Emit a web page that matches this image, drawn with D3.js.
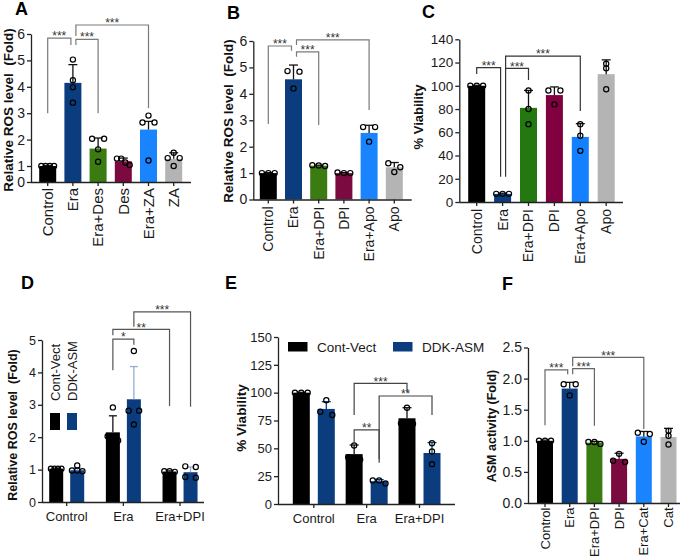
<!DOCTYPE html>
<html><head><meta charset="utf-8">
<script src="https://cdn.jsdelivr.net/npm/d3@7"></script>
<style>
body{margin:0;background:#fff}
svg{display:block}
text{white-space:pre}
</style></head><body>
<svg id="c" width="685" height="557"></svg>
<script>
// ---------------- DATA ----------------
const catsA = ["Control","Era","Era+Des","Des","Era+ZA","ZA"];
const meanA = [1.0, 4.15, 1.66, 1.18, 2.38, 1.27];
const sdA   = [0.02, 0.69, 0.40, 0.12, 0.31, 0.23];
const ptsA  = [[1,1,1,1],[5.03,4.25,3.98,3.40],[2.03,2.03,1.63,1.16],[1.28,1.28,1.13,1.04],[2.65,2.91,2.65,1.21],[1.30,1.50,1.30,1.00]];
const ticksA = [0,1,2,3,4,5,6];
const sigA = [[0,1,"***",5.84,3.0,5.58],[1,2,"***",5.8,5.58,3.0],[1,4,"***",6.34,5.92,3.19]];

const catsB = ["Control","Era","Era+DPI","DPI","Era+Apo","Apo"];
const meanB = [1.0, 4.55, 1.28, 1.0, 2.52, 1.22];
const sdB   = [0.02, 0.54, 0.02, 0.02, 0.29, 0.18];
const ptsB  = [[1,1,1],[4.86,4.84,4.2],[1.27,1.29,1.3],[1.0,1.02,1.0],[2.74,2.74,2.19],[1.37,1.04,1.22]];
const ticksB = [0,1,2,3,4,5,6];
const sigB = [[0,1,"***",5.81,2.86,5.63],[1,2,"***",5.59,5.4,2.82],[1,4,"***",6.04,5.85,3.39]];

const catsC = ["Control","Era","Era+DPI","DPI","Era+Apo","Apo"];
const meanC = [100, 7, 81, 92, 56, 110];
const sdC   = [0.4, 0.6, 15, 7, 11.4, 12.3];
const ptsC  = [[100,100,100],[7,7,7],[96,80,67],[96,96,84],[67,57,44],[119,115,97]];
const ticksC = [0,20,40,60,80,100,120,140];
const sigC = [[0,1,"***",115.6,110.1,21.8],[1,2,"***",115,21.8,105],[1,4,"***",125.6,115,78.3]];

const groupsD = ["Control","Era","Era+DPI"];
const seriesD = ["Cont-Vect","DDK-ASM"];
const meanD = [[1.03, 2.15, 0.94],[0.98, 3.17, 0.92]];
const sdD   = [[0.01, 0.51, 0.02],[0.07, 1.01, 0.16]];
const ptsD  = [[[1.03,1.03,1.03,1.03],[2.92,1.75,1.9,2.03],[0.95,0.95,0.93]],
               [[0.97,1.13,0.97,0.95],[2.82,2.82,2.39,4.66],[1.08,1.1,0.77,0.75]]];
const ticksD = [0,1,2,3,4,5];
const sigD = [[1,0,1,1,"*",5.03,4.07,4.85],[1,0,2,0,"**",5.33,5.15,2.96],[1,1,2,1,"***",5.87,5.41,2.94]];

const groupsE = ["Control","Era","Era+DPI"];
const seriesE = ["Cont-Vect","DDK-ASM"];
const meanE = [[100, 44.8, 77],[85.4, 20.5, 45.8]];
const sdE   = [[0.3, 8.2, 9.5],[6.5, 1.4, 9.4]];
const ptsE  = [[[100,100,100],[52.5,42,40],[86.5,72,72.5]],
               [[79.9,93.3,82.9],[18.5,21.2,21.2],[54.6,47.1,35.8]]];
const ticksE = [0,25,50,75,100,125,150];
const sigE = [[1,0,1,1,"**",66.5,54.5,37.1],[1,0,2,0,"***",108.4,79.9,100.9],[1,1,2,1,"**",97,40.2,79.9]];

const catsF = ["Control","Era","Era+DPI","DPI","Era+Cat","Cat"];
const meanF = [1.0, 1.84, 0.97, 0.71, 1.07, 1.06];
const sdF   = [0.01, 0.10, 0.02, 0.09, 0.08, 0.14];
const ptsF  = [[1,1,1],[1.91,1.91,1.73],[0.95,0.98,0.98],[0.66,0.79,0.68],[1.13,1.11,0.985],[1.16,1.08,0.94]];
const ticksF = [0,0.5,1.0,1.5,2.0,2.5];
const sigF = [[0,1,"***",2.14,1.25,2.07],[1,2,"***",2.16,2.07,1.24],[1,4,"***",2.34,2.2,1.19]];

// ---------------- STYLE ----------------
const FONT = '"Liberation Sans", Arial, Helvetica, sans-serif';
const BLACK = "#000000", NAVY = "#0b3d7e", GREEN = "#3a7b12", MAROON = "#7b0a40", SKY = "#1a84ff", GREY = "#b4b4b4";
const palA = [BLACK, NAVY, GREEN, MAROON, SKY, GREY];
const palC = [BLACK, NAVY, "#23780f", "#800040", "#1380ff", GREY];

const svg = d3.select("#c");

function spread(vals, y, cx, bw) {
  const idx = vals.map((v,i)=>i).sort((a,b)=>y(vals[a]) - y(vals[b]));
  const xs = new Array(vals.length);
  const clusters = []; let cur = [idx[0]];
  for (let k = 1; k < idx.length; k++) {
    if (Math.abs(y(vals[idx[k]]) - y(vals[idx[k-1]])) < 4.6) cur.push(idx[k]);
    else { clusters.push(cur); cur = [idx[k]]; }
  }
  clusters.push(cur);
  clusters.forEach(c => {
    const k = c.length, sp = k > 1 ? Math.min(12, bw*0.75/(k-1)) : 0;
    c.forEach((i,j) => xs[i] = cx + (j - (k-1)/2)*sp);
  });
  return xs;
}

function drawYAxis(g, y, x0, ticks, fmt, fs) {
  const ax = g.append("g").attr("transform", `translate(${x0},0)`)
    .call(d3.axisLeft(y).tickValues(ticks).tickFormat(fmt).tickSize(4).tickPadding(2).tickSizeOuter(0));
  ax.select(".domain").attr("stroke","#222").attr("stroke-width",1.3);
  ax.selectAll(".tick line").attr("stroke","#222").attr("stroke-width",1.3);
  ax.selectAll(".tick text").attr("font-size",fs).attr("fill","#1a1a1a").attr("font-family",FONT);
}

function title(txt, x, y, fs, bold) {
  svg.append("text").attr("transform",`translate(${x},${y}) rotate(-90)`)
    .attr("text-anchor","middle").attr("dominant-baseline","central")
    .attr("font-family",FONT).attr("font-weight",bold?"bold":"normal").attr("font-size",fs)
    .attr("fill","#111").text(txt);
}
function letter(txt, x, y) {
  svg.append("text").attr("x",x).attr("y",y).attr("font-family",FONT).attr("font-weight","bold")
    .attr("font-size",18).attr("fill","#000").text(txt);
}
function bracket(g, xl, xr, yt, yl, yr, lab, col) {
  g.append("path").attr("d",`M${xl},${yl}V${yt}H${xr}V${yr}`).attr("fill","none")
    .attr("stroke",col).attr("stroke-width",1.2);
  g.append("text").attr("x",(xl+xr)/2).attr("y",yt+2.2).attr("text-anchor","middle")
    .attr("font-family",FONT).attr("font-size",12).attr("fill","#333").text(lab);
}
function drawErrPts(g, cx, bw, mean, sd, pts, y, errCol, cap) {
  g.append("line").attr("x1",cx).attr("x2",cx).attr("y1",y(mean)).attr("y2",y(mean+sd))
    .attr("stroke",errCol).attr("stroke-width",1.3);
  g.append("line").attr("x1",cx-cap/2).attr("x2",cx+cap/2).attr("y1",y(mean+sd)).attr("y2",y(mean+sd))
    .attr("stroke",errCol).attr("stroke-width",1.3);
  const xs = spread(pts, y, cx, bw);
  g.selectAll(null).data(pts).join("circle").attr("cx",(d,i)=>xs[i]).attr("cy",d=>y(d)).attr("r",2.6)
    .attr("fill","none").attr("stroke","#000").attr("stroke-width",1.2);
}

function simplePanel(o) {
  const g = svg.append("g");
  const n = o.cats.length, p = 1 - o.bw/o.step;
  const x = d3.scaleBand().domain(o.cats).range([o.c0 - o.step/2, o.c0 - o.step/2 + n*o.step])
    .paddingInner(p).paddingOuter(p/2);
  const y = d3.scaleLinear().domain(o.domain).range(o.yRange);
  const yb = y(0);
  const cx = d => x(d) + x.bandwidth()/2;
  g.selectAll("rect").data(o.cats).join("rect")
    .attr("x",d=>x(d)).attr("width",x.bandwidth())
    .attr("y",(d,i)=>y(o.mean[i])).attr("height",(d,i)=>yb - y(o.mean[i]))
    .attr("fill",(d,i)=>o.pal[i]);
  o.cats.forEach((c,i)=> drawErrPts(g, cx(c), x.bandwidth(), o.mean[i], o.sd[i], o.pts[i], y, "#111", 9));
  drawYAxis(g, y, o.x0, o.ticks, o.fmt, o.tfs);
  g.append("line").attr("x1",o.x0).attr("x2",o.x1).attr("y1",yb+0.5).attr("y2",yb+0.5)
    .attr("stroke","#222").attr("stroke-width",1.3);
  const xa = g.append("g").attr("transform",`translate(0,${yb})`)
    .call(d3.axisBottom(x).tickSize(4).tickSizeOuter(0));
  xa.select(".domain").remove();
  xa.selectAll(".tick line").attr("stroke","#222").attr("stroke-width",1.3);
  xa.selectAll(".tick text").attr("transform","rotate(-90)").attr("x",-o.lpad).attr("y",0).attr("dy","0.35em")
    .attr("text-anchor","end").attr("font-size",o.xfs).attr("font-family",FONT).attr("fill","#1a1a1a");
  const rightEnds = new Set(o.sig.map(s=>s[1])), leftEnds = new Set(o.sig.map(s=>s[0]));
  o.sig.forEach(s => {
    const xl = cx(o.cats[s[0]]) + (rightEnds.has(s[0]) ? 3 : 0);
    const xr = cx(o.cats[s[1]]) - (leftEnds.has(s[1]) ? 2 : 0);
    bracket(g, xl, xr, y(s[3]), y(s[4]), y(s[5]), s[2], o.bcol);
  });
}

function groupPanel(o) {
  const g = svg.append("g");
  const n = o.groups.length;
  const x = d3.scaleBand().domain(o.groups).range([o.c0 - o.step/2, o.c0 - o.step/2 + n*o.step]);
  const p = 1 - o.bw/o.istep;
  const xi = d3.scaleBand().domain(o.series).range([-o.istep, o.istep]).paddingInner(p).paddingOuter(p/2);
  const y = d3.scaleLinear().domain(o.domain).range(o.yRange);
  const yb = y(0);
  const gc = gname => x(gname) + x.bandwidth()/2;
  const bc = (gi, si) => gc(o.groups[gi]) + xi(o.series[si]) + xi.bandwidth()/2;
  o.series.forEach((s, si) => {
    g.selectAll(null).data(o.groups).join("rect")
      .attr("x",d=>gc(d) + xi(s)).attr("width",xi.bandwidth())
      .attr("y",(d,gi)=>y(o.mean[si][gi])).attr("height",(d,gi)=>yb - y(o.mean[si][gi]))
      .attr("fill",o.pal[si]);
  });
  o.series.forEach((s, si) => o.groups.forEach((gname, gi) =>
    drawErrPts(g, bc(gi,si), xi.bandwidth(), o.mean[si][gi], o.sd[si][gi], o.pts[si][gi], y, o.errCol[si], o.cap)));
  drawYAxis(g, y, o.x0, o.ticks, o.fmt, o.tfs);
  g.append("line").attr("x1",o.x0).attr("x2",o.x1).attr("y1",yb+0.5).attr("y2",yb+0.5)
    .attr("stroke","#222").attr("stroke-width",1.3);
  const xa = g.append("g").attr("transform",`translate(0,${yb})`)
    .call(d3.axisBottom(x).tickSize(4).tickPadding(6).tickSizeOuter(0));
  xa.select(".domain").remove();
  xa.selectAll(".tick line").attr("stroke","#222").attr("stroke-width",1.3);
  xa.selectAll(".tick text").attr("font-size",o.xfs).attr("font-family",FONT).attr("fill","#1a1a1a");
  o.sig.forEach(s => {
    bracket(g, bc(s[0],s[1]), bc(s[2],s[3]), y(s[5]), y(s[6]), y(s[7]), s[4], o.bcol);
  });
  return g;
}

// ---------------- PANELS ----------------
const f0 = d3.format("d"), f1 = d3.format(".1f");

// panel A's printed axis has a compressed 0–1 segment; a piecewise-linear scale reproduces it
simplePanel({cats:catsA, mean:meanA, sd:sdA, pts:ptsA, sig:sigA, pal:palA,
  c0:47.7, step:25.2, bw:17, x0:31, x1:191, domain:[0,1,6], yRange:[182,166,34],
  ticks:ticksA, fmt:f0, tfs:14, xfs:15, lpad:6, bcol:"#7a7a7a"});
title("Relative ROS level  (Fold)", 8, 110, 13.5, true);
letter("A", 15, 15);

simplePanel({cats:catsB, mean:meanB, sd:sdB, pts:ptsB, sig:sigB, pal:palA,
  c0:268.3, step:25.2, bw:17, x0:253.3, x1:411.7, domain:[0,6], yRange:[199.5,41],
  ticks:ticksB, fmt:f0, tfs:14, xfs:14, lpad:7, bcol:"#7a7a7a"});
title("Relative ROS level  (Fold)", 228.5, 121, 13.5, true);
letter("B", 227, 19);

simplePanel({cats:catsC, mean:meanC, sd:sdC, pts:ptsC, sig:sigC, pal:palC,
  c0:476.7, step:25.9, bw:17, x0:459.3, x1:623, domain:[0,140], yRange:[202,39.3],
  ticks:ticksC, fmt:f0, tfs:13.5, xfs:14, lpad:7, bcol:"#333"});
title("% Viability", 418, 117, 13, true);
letter("C", 422, 18);

groupPanel({groups:groupsD, series:seriesD, mean:meanD, sd:sdD, pts:ptsD, sig:sigD,
  pal:[BLACK, NAVY], errCol:["#111","#93acd3"], cap:8,
  c0:66.7, step:56.67, istep:21, bw:14, x0:42, x1:204, domain:[0,5], yRange:[502,340],
  ticks:ticksD, fmt:f0, tfs:12.5, xfs:13, bcol:"#555"});
title("Relative ROS level  (Fold)", 13, 425, 12.5, true);
letter("D", 21, 289);
// legend D (vertical)
[[BLACK,"Cont-Vect",55],[NAVY,"DDK-ASM",72]].forEach(([c,t,cx]) => {
  svg.append("rect").attr("x",cx-5).attr("y",413).attr("width",10).attr("height",17).attr("fill",c);
  svg.append("text").attr("transform",`translate(${cx},401) rotate(-90)`).attr("dominant-baseline","central")
    .attr("font-family",FONT).attr("font-size",13).attr("fill","#1a1a1a").text(t);
});

groupPanel({groups:groupsE, series:seriesE, mean:meanE, sd:sdE, pts:ptsE, sig:sigE,
  pal:[BLACK, NAVY], errCol:["#111", NAVY], cap:9,
  c0:313.8, step:52.85, istep:25, bw:17, x0:278, x1:455, domain:[0,150], yRange:[504,337],
  ticks:ticksE, fmt:f0, tfs:13, xfs:13, bcol:"#444"});
title("% Viability", 241, 418, 13.5, true);
letter("E", 225, 289);
// legend E (horizontal)
[[BLACK,"Cont-Vect",288],[NAVY,"DDK-ASM",393]].forEach(([c,t,x]) => {
  svg.append("rect").attr("x",x).attr("y",342).attr("width",19.5).attr("height",9.5).attr("fill",c);
  svg.append("text").attr("x",x+29).attr("y",351.5)
    .attr("font-family",FONT).attr("font-size",13.5).attr("fill","#1a1a1a").text(t);
});

simplePanel({cats:catsF, mean:meanF, sd:sdF, pts:ptsF, sig:sigF, pal:palA,
  c0:545, step:24.7, bw:16, x0:528, x1:680, domain:[0,2.5], yRange:[503,347.5],
  ticks:ticksF, fmt:f1, tfs:14, xfs:13, lpad:4.5, bcol:"#666"});
title("ASM activity (Fold)", 492, 426, 12.5, true);
letter("F", 502, 290);
</script>
</body></html>
